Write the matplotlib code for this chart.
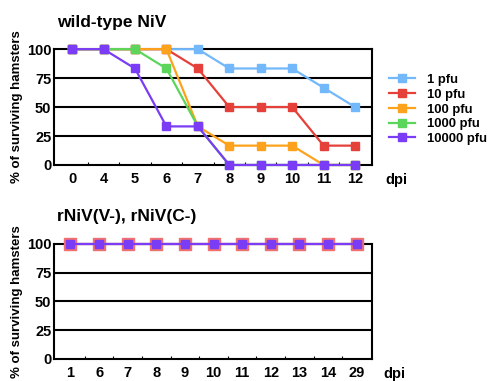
import numpy as np
import matplotlib
matplotlib.use('Agg')
import matplotlib.pyplot as plt
from matplotlib.lines import Line2D

plt.rcParams['font.family'] = ['Liberation Sans', 'DejaVu Sans']
plt.rcParams['font.weight'] = 'bold'

# top panel: wild-type NiV
wt_days = ['0', '4', '5', '6', '7', '8', '9', '10', '11', '12']
wt_labels = ['1 pfu', '10 pfu', '100 pfu', '1000 pfu', '10000 pfu']
pfu_1 = [100, 100, 100, 100, 100, 83.3, 83.3, 83.3, 66.7, 50]
pfu_10 = [100, 100, 100, 100, 83.3, 50, 50, 50, 16.7, 16.7]
pfu_100 = [100, 100, 100, 100, 33.3, 16.7, 16.7, 16.7, 0, 0]
pfu_1000 = [100, 100, 100, 83.3, 33.3, 0, 0, 0, 0, 0]
pfu_10000 = [100, 100, 83.3, 33.3, 33.3, 0, 0, 0, 0, 0]
wt_colors = ['#72b8fb', '#e5403a', '#fda21c', '#5bd65b', '#7a3df5']

# bottom panel: rNiV(V-), rNiV(C-)
mut_days = ['1', '6', '7', '8', '9', '10', '11', '12', '13', '14', '29']
rniv_v = [100, 100, 100, 100, 100, 100, 100, 100, 100, 100, 100]
rniv_c = [100, 100, 100, 100, 100, 100, 100, 100, 100, 100, 100]

fig = plt.figure(figsize=(4.88, 3.81), dpi=100)
ax1 = fig.add_axes([0.111, 0.567, 0.652, 0.304])
ax2 = fig.add_axes([0.111, 0.058, 0.652, 0.302])


def style_axis(ax, labels, title):
    n = len(labels)
    ax.set_ylim(0, 100)
    ax.set_xlim(-0.57, n - 1 + 0.55)
    ax.set_yticks([0, 25, 50, 75, 100])
    ax.set_yticklabels(['0', '25', '50', '75', '100'], fontsize=10.5, fontweight='bold')
    ax.set_xticks(np.arange(n))
    ax.set_xticklabels(labels, fontsize=10.5, fontweight='bold')
    ax.tick_params(axis='x', length=0, pad=5)
    ax.tick_params(axis='y', length=0, pad=2)
    ax.set_xticks(np.arange(n - 1) + 0.5, minor=True)
    ax.tick_params(axis='x', which='minor', direction='in', length=2, width=0.8)
    for y in [25, 50, 75]:
        ax.axhline(y, color='black', lw=1.5, zorder=1)
    for s in ax.spines.values():
        s.set_linewidth(1.5)
    ax.set_ylabel('% of surviving hamsters', fontsize=9.5, fontweight='bold', labelpad=3)
    ax.annotate('dpi', xy=(n - 1 + 0.95, 0), xycoords=('data', 'axes fraction'),
                xytext=(0, -11), textcoords='offset points', fontsize=10.5,
                fontweight='bold', va='center', ha='left')
    ax.annotate(title, xy=(0, 1), xycoords='axes fraction', xytext=(2, 14),
                textcoords='offset points', fontsize=12.5, fontweight='bold',
                va='bottom', ha='left')


x1 = np.arange(len(wt_days))
series = [pfu_1, pfu_10, pfu_100, pfu_1000, pfu_10000]
for vals, c, lab in zip(series, wt_colors, wt_labels):
    ax1.plot(x1, vals, color=c, lw=1.6, marker='s', ms=6, mec=c, label=lab,
             zorder=3, clip_on=False)
style_axis(ax1, wt_days, 'wild-type NiV')

handles = [Line2D([0], [0], color=c, lw=1.6, marker='s', ms=5.5) for c in wt_colors]
fig.legend(handles, wt_labels, loc='upper left', bbox_to_anchor=(0.797, 0.806),
           frameon=False, borderpad=0, borderaxespad=0, handlelength=2.0,
           handletextpad=0.9, labelspacing=0.2,
           prop={'weight': 'bold', 'size': 9.4})

x2 = np.arange(len(mut_days))
ax2.plot(x2, rniv_v, color='#f07070', lw=1.6, marker='s', ms=8.5, mec='#f07070',
         zorder=3, clip_on=False)
ax2.plot(x2, rniv_c, color='#7a3df5', lw=1.6, marker='s', ms=5.5, mec='#7a3df5',
         zorder=4, clip_on=False)
style_axis(ax2, mut_days, 'rNiV(V-), rNiV(C-)')

fig.savefig('out.png', dpi=100)
